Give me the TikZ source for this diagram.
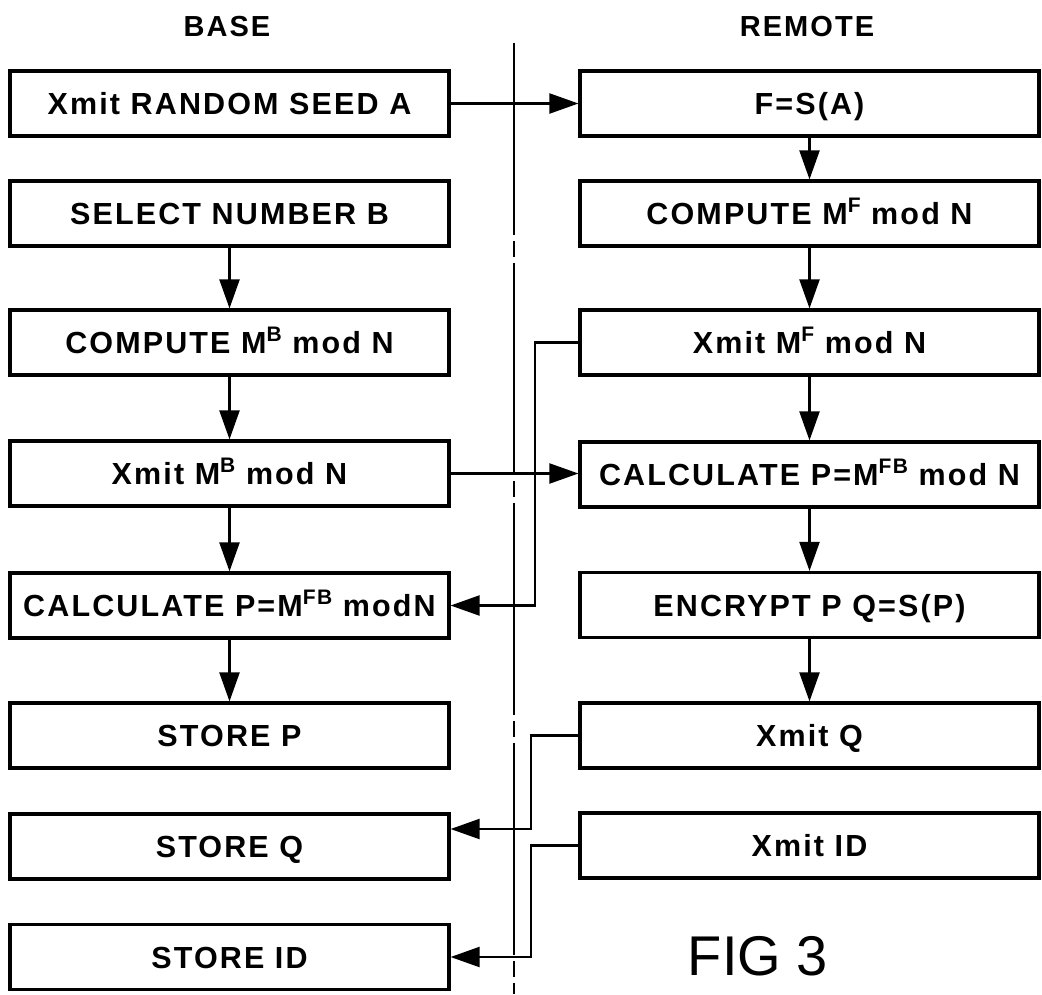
\documentclass[tikz,border=0pt]{standalone}
\usepackage{fontspec}
\setmainfont{Liberation Sans}
\newfontfamily\boxfont[LetterSpace=7,UprightFont=* Bold]{Liberation Sans}
\usetikzlibrary{arrows.meta}
\newcommand\upx[1]{\raisebox{12pt}{\fontsize{21}{21}\selectfont #1}}
\tikzset{
  stepbox/.style={draw, line width=3.2pt, minimum height=65pt, inner sep=0pt,
    text height=22pt, text depth=0pt,
    font=\boxfont\fontsize{30.5}{32}\selectfont},
  lbox/.style={stepbox, minimum width=439pt},
  rbox/.style={stepbox, minimum width=459pt},
  flow/.style={line width=2.2pt, -{Triangle[length=29pt,width=20pt]}},
  divider/.style={line width=2pt, dash pattern=on 212pt off 6pt on 16pt off 6pt, dash phase=20pt},
  heading/.style={font=\boxfont\fontsize{29}{30}\selectfont},
}
\begin{document}
\begin{tikzpicture}[x=1pt,y=-1pt]
\useasboundingbox (0,0) rectangle (1042,994);
% headings
\node[heading] (base) at (227,27) {BASE};
\node[heading] (remote) at (807,27) {REMOTE};
% divider
\coordinate (dtop) at (514,43);
\coordinate (dbot) at (514,994);
\draw[divider] (dtop) -- (dbot);
% base column
\node[lbox] (L1) at (229.5,103.5) {Xmit RANDOM SEED A};
\node[lbox] (L2) at (229.5,213.5) {SELECT NUMBER B};
\node[lbox] (L3) at (229.5,342.5) {COMPUTE M\upx{B} mod N};
\node[lbox] (L4) at (229.5,473.5) {Xmit M\upx{B} mod N};
\node[lbox] (L5) at (229.5,605.5) {CALCULATE P=M\upx{FB} modN};
\node[lbox] (L6) at (229.5,735.5) {STORE P};
\node[lbox] (L7) at (229.5,846.5) {STORE Q};
\node[lbox] (L8) at (229.5,957) {STORE ID};
% remote column
\node[rbox] (R1) at (809.5,103.5) {F=S(A)};
\node[rbox] (R2) at (809.5,213.5) {COMPUTE M\upx{F} mod N};
\node[rbox] (R3) at (809.5,342.5) {Xmit M\upx{F} mod N};
\node[rbox] (R4) at (809.5,474.5) {CALCULATE P=M\upx{FB} mod N};
\node[rbox] (R5) at (809.5,605) {ENCRYPT P Q=S(P)};
\node[rbox] (R6) at (809.5,735.5) {Xmit Q};
\node[rbox] (R7) at (809.5,845.5) {Xmit ID};
% caption
\node[font=\fontsize{56}{60}\selectfont] (fig) at (758,956) {FIG 3};
% vertical flows
\draw[flow] (L2) -- (L3);
\draw[flow] (L3) -- (L4);
\draw[flow] (L4) -- (L5);
\draw[flow] (L5) -- (L6);
\draw[flow] (R1) -- (R2);
\draw[flow] (R2) -- (R3);
\draw[flow] (R3) -- (R4);
\draw[flow] (R4) -- (R5);
\draw[flow] (R5) -- (R6);
% cross flows
\coordinate (va) at (535,0);
\coordinate (vb) at (531,0);
\coordinate (qy) at (0,829);
\draw[flow] (L1.east) -- (L1.east -| R1.west);
\draw[flow] (L4.east) -- (L4.east -| R4.west);
\draw[flow] (R3.west) -- (R3.west -| va) -- (va |- L5.east) -- (L5.east);
\draw[flow] (R6.west) -- (R6.west -| vb) -- (vb |- qy) -- (L7.east |- qy);
\draw[flow] (R7.west) -- (R7.west -| vb) -- (vb |- L8.east) -- (L8.east);
\end{tikzpicture}
\end{document}
